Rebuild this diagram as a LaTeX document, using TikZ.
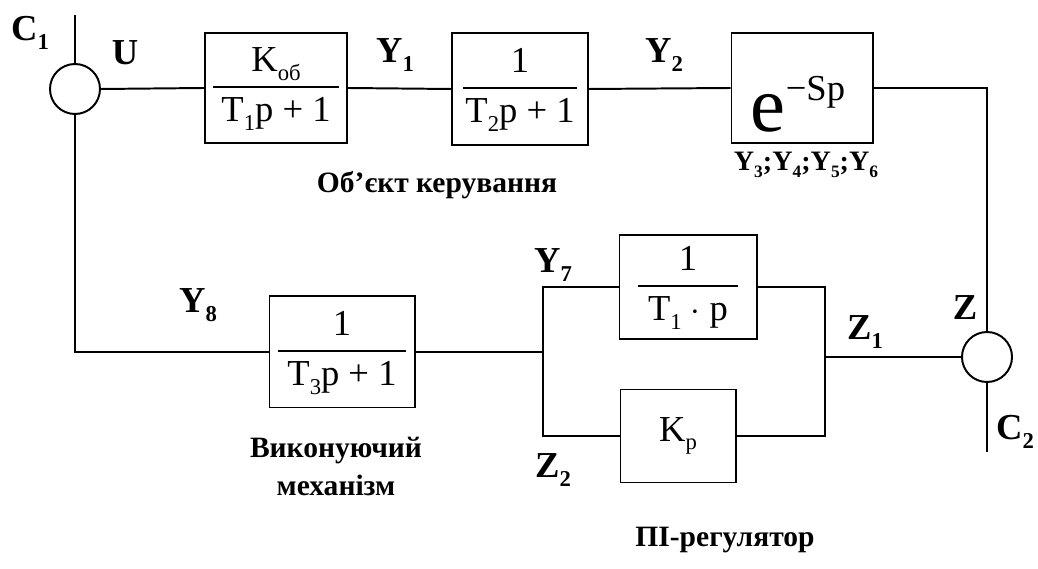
\documentclass[tikz,border=0pt]{standalone}
\usepackage{fontspec}
\setmainfont{Liberation Serif}
\newcommand\myfr[3]{\vbox{\hbox to #3{\hfil\strut #1\hfil}\kern1pt\hrule height 1.4pt\kern3pt\hbox to #3{\hfil\strut #2\hfil}}}
\newcommand\sub[1]{\raisebox{-0.24em}{\scalebox{0.62}{#1}}}
\begin{document}
\begin{tikzpicture}[x=0.025cm,y=-0.025cm,line width=1.4pt,
  blk/.style={draw,rectangle,inner sep=0pt,font=\fontsize{26}{30}\selectfont},
  sum/.style={draw,circle,minimum size=1.25cm,inner sep=0pt},
  lbl/.style={font=\fontsize{26}{30}\selectfont\bfseries,inner sep=0pt},
  smalllbl/.style={font=\fontsize{20}{24}\selectfont\bfseries,inner sep=0pt},
  captxt/.style={font=\fontsize{21}{27}\selectfont\bfseries,align=center,inner sep=0pt}]
\useasboundingbox (0,0) rectangle (1038,569);
% summing junctions
\node[sum] (c1) at (75,89) {};
\node[sum] (c2) at (987,357) {};
% blocks
\node[blk,minimum width=3.55cm,minimum height=2.75cm] (b1) at (276,88)
  {\myfr{K\sub{об}}{T\sub{1}p + 1}{3.125cm}};
\node[blk,minimum width=3.4cm,minimum height=2.8cm] (b2) at (520,89)
  {\myfr{1}{T\sub{2}p + 1}{2.825cm}};
\node[blk,minimum width=3.525cm,minimum height=2.75cm] (b3) at (802,88) {};
\node[inner sep=0pt] (b3t) at (798,104)
  {{\fontsize{56}{56}\selectfont e}\raisebox{22pt}{\fontsize{26}{26}\selectfont −Sp}};
\node[blk,minimum width=3.425cm,minimum height=2.6cm] (b4) at (688,287)
  {\myfr{1}{T\sub{1} $\cdot$ p}{2.5cm}};
\node[blk,minimum width=2.875cm,minimum height=2.325cm] (b5) at (678,436)
  {K\sub{p}};
\node[blk,minimum width=3.625cm,minimum height=2.775cm] (b6) at (342,352)
  {\myfr{1}{T\sub{3}p + 1}{3.175cm}};
% junction points
\coordinate (jl) at (543,352);
\coordinate (jr) at (825,357);
\coordinate (c1in) at (75,15);
\coordinate (c2out) at (987,452);
% connectors
\draw (c1in) -- (c1.north);
\draw (c1.east) -- (b1.west);
\draw (b1.east) -- (b2.west);
\draw (b2.east) -- (b3.west);
\draw (b3.east) -| (c2.north);
\draw (c2.south) -- (c2out);
\draw (c1.south) |- (b6.west);
\draw (b6.east) -- (jl);
\draw (b4.west) -| (jl) |- (b5.west);
\draw (b4.east) -| (jr) |- (b5.east);
\draw (jr) -- (c2.west);
% labels
\node[lbl] (lC1) at (30,33) {C\sub{1}};
\node[lbl] (lU) at (125,53) {U};
\node[lbl] (lY1) at (395,55) {Y\sub{1}};
\node[lbl] (lY2) at (664,55) {Y\sub{2}};
\node[smalllbl] (lY3) at (806,165) {Y\sub{3};Y\sub{4};Y\sub{5};Y\sub{6}};
\node[captxt] (lobj) at (437,185) {Об’єкт керування};
\node[lbl] (lY8) at (198,305) {Y\sub{8}};
\node[lbl] (lY7) at (553,265) {Y\sub{7}};
\node[lbl] (lZ) at (965,308) {Z};
\node[lbl] (lZ1) at (865,332) {Z\sub{1}};
\node[lbl] (lZ2) at (553,470) {Z\sub{2}};
\node[lbl] (lC2) at (1015,432) {C\sub{2}};
\node[captxt] (lmech) at (336,466) {Виконуючий\\механізм};
\node[captxt] (lpi) at (725,540) {ПІ-регулятор};
\end{tikzpicture}
\end{document}
